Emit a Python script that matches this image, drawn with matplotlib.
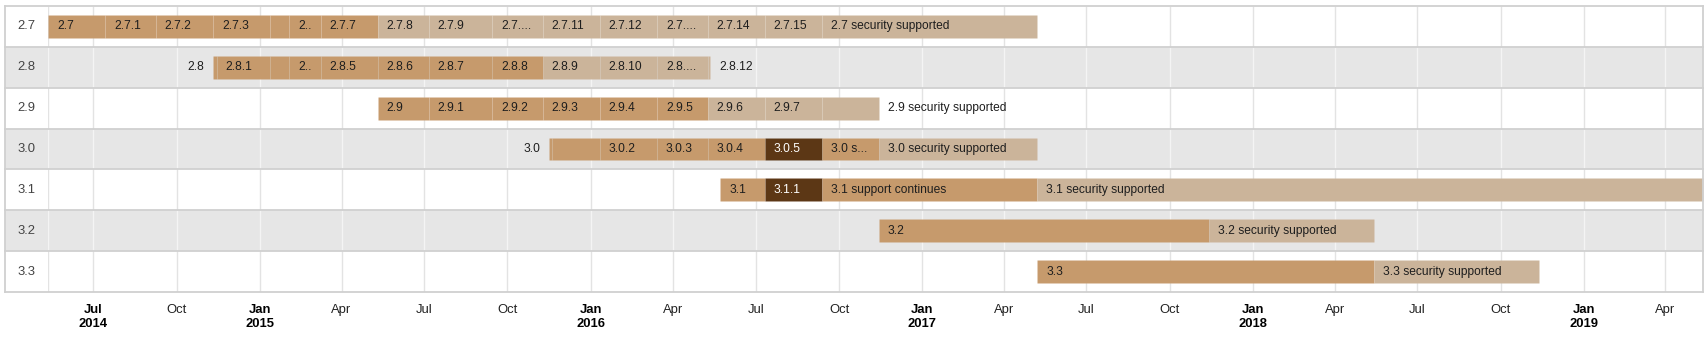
import numpy as np
import matplotlib.pyplot as plt
import matplotlib.dates as mdates
from matplotlib.patches import Rectangle
from matplotlib.lines import Line2D
from matplotlib.transforms import blended_transform_factory

plt.rcParams['font.family'] = ['Liberation Sans', 'DejaVu Sans']

# rows of the timeline
rows = ["2.7", "2.8", "2.9", "3.0", "3.1", "3.2", "3.3"]

# (label, start, kind) - each segment lasts until the next one starts
rel_27 = [("2.7", "2014-05-12", "general"), ("2.7.1", "2014-07-14", "general"),
          ("2.7.2", "2014-09-08", "general"), ("2.7.3", "2014-11-10", "general"),
          ("2.7.4", "2015-01-12", "general"), ("2.7.5", "2015-02-02", "general"),
          ("2.7.7", "2015-03-09", "general"), ("2.7.8", "2015-05-11", "security"),
          ("2.7.9", "2015-07-06", "security"), ("2.7.10", "2015-09-14", "security"),
          ("2.7.11", "2015-11-09", "security"), ("2.7.12", "2016-01-11", "security"),
          ("2.7.13", "2016-03-14", "security"), ("2.7.14", "2016-05-09", "security"),
          ("2.7.15", "2016-07-11", "security"),
          ("2.7 security supported", "2016-09-12", "security")]
rel_28 = [("2.8", "2014-11-10", "general"), ("2.8.1", "2014-11-14", "general"),
          ("2.8.2", "2015-01-12", "general"), ("2.8.3", "2015-02-02", "general"),
          ("2.8.5", "2015-03-09", "general"), ("2.8.6", "2015-05-11", "general"),
          ("2.8.7", "2015-07-06", "general"), ("2.8.8", "2015-09-14", "general"),
          ("2.8.9", "2015-11-09", "security"), ("2.8.10", "2016-01-11", "security"),
          ("2.8.11", "2016-03-14", "security"), ("2.8.12", "2016-05-09", "security")]
rel_29 = [("2.9", "2015-05-11", "general"), ("2.9.1", "2015-07-06", "general"),
          ("2.9.2", "2015-09-14", "general"), ("2.9.3", "2015-11-09", "general"),
          ("2.9.4", "2016-01-11", "general"), ("2.9.5", "2016-03-14", "general"),
          ("2.9.6", "2016-05-09", "security"), ("2.9.7", "2016-07-11", "security"),
          ("2.9 security supported", "2016-09-12", "security")]
rel_30 = [("3.0", "2015-11-16", "general"), ("", "2015-11-19", "general"),
          ("3.0.2", "2016-01-11", "general"), ("3.0.3", "2016-03-14", "general"),
          ("3.0.4", "2016-05-09", "general"), ("3.0.5", "2016-07-11", "current"),
          ("3.0 support continues", "2016-09-12", "general"),
          ("3.0 security supported", "2016-11-14", "security")]
rel_31 = [("3.1", "2016-05-23", "general"), ("3.1.1", "2016-07-11", "current"),
          ("3.1 support continues", "2016-09-12", "general"),
          ("3.1 security supported", "2017-05-08", "security")]
rel_32 = [("3.2", "2016-11-14", "general"),
          ("3.2 security supported", "2017-11-13", "security")]
rel_33 = [("3.3", "2017-05-08", "general"),
          ("3.3 security supported", "2018-05-14", "security")]
row_ends = ["2017-05-08", "2016-05-12", "2016-11-14", "2017-05-08",
            "2019-05-13", "2018-05-14", "2018-11-12"]

tick_dates = ["2014-07-01", "2014-10-01", "2015-01-01", "2015-04-01", "2015-07-01",
              "2015-10-01", "2016-01-01", "2016-04-01", "2016-07-01", "2016-10-01",
              "2017-01-01", "2017-04-01", "2017-07-01", "2017-10-01", "2018-01-01",
              "2018-04-01", "2018-07-01", "2018-10-01", "2019-01-01", "2019-04-01"]
tick_labels = ["Jul\n2014", "Oct", "Jan\n2015", "Apr", "Jul", "Oct", "Jan\n2016", "Apr",
               "Jul", "Oct", "Jan\n2017", "Apr", "Jul", "Oct", "Jan\n2018", "Apr",
               "Jul", "Oct", "Jan\n2019", "Apr"]

all_rows = [rel_27, rel_28, rel_29, rel_30, rel_31, rel_32, rel_33]

fill = {"general": "#c69a6c", "security": "#cbb49a", "current": "#5c3715"}
ink = {"general": "#1e1e1e", "security": "#1e1e1e", "current": "#ffffff"}

W, H, DPI = 1708, 342, 100
PX = 72 / DPI  # points per pixel
fig = plt.figure(figsize=(W / DPI, H / DPI), dpi=DPI)
left, right, top, bottom = 48, 1703.5, 6, 292
ax = fig.add_axes([left / W, 1 - bottom / H, (right - left) / W, (bottom - top) / H])

d = lambda s: mdates.date2num(np.datetime64(s))
xmin = min(d(r[0][1]) for r in all_rows)
xmax = max(d(e) for e in row_ends)
ax.set_xlim(xmin, xmax)
ax.set_ylim(len(rows) - 0.5, -0.5)
for s in ax.spines.values():
    s.set_visible(False)
ax.set_yticks([])

ticks = [d(t) for t in tick_dates]
ax.set_xticks(ticks, tick_labels)
ax.tick_params(axis='x', length=0, pad=8.5, labelsize=13 * PX, labelcolor='#222222')
for lab in ax.get_xticklabels():
    if "\n" in lab.get_text():
        lab.set_fontweight('bold')
        lab.set_color('#000000')

# row bands, grid, separators
fig_y = blended_transform_factory(fig.transFigure, ax.transData)
x_a, x_b = 5 / W, right / W
for i, name in enumerate(rows):
    band = "#e6e6e6" if i % 2 else "#ffffff"
    ax.add_patch(Rectangle((x_a, i - 0.5), x_b - x_a, 1, transform=fig_y,
                           facecolor=band, edgecolor='none', zorder=0, clip_on=False))
    grid = "#f4f4f4" if i % 2 else "#e3e3e3"
    ax.vlines([xmin] + ticks, i - 0.5, i + 0.5, colors=grid, lw=1.0, zorder=1)
    fig.text(17 / W, 0, name, transform=fig_y, fontsize=13 * PX, color='#444444',
             va='center', ha='left').set_y(i)
for yb in np.arange(-0.5, len(rows), 1.0):
    ax.add_line(Line2D([x_a, x_b], [yb, yb], transform=fig_y, color='#d0d0d0',
                       lw=1.3, zorder=4, clip_on=False))
fig_ax = blended_transform_factory(fig.transFigure, ax.transAxes)
for xb in (x_a, x_b):
    ax.add_line(Line2D([xb, xb], [0, 1], transform=fig_ax, color='#d0d0d0',
                       lw=1.3, zorder=4, clip_on=False))

renderer = fig.canvas.get_renderer()
FS = 12 * PX
PAD = 9


def width_px(s):
    t = fig.text(0, 0, s, fontsize=FS)
    w = t.get_window_extent(renderer).width
    t.remove()
    return w


def to_px(x):
    return ax.transData.transform((x, 0))[0]


for i, (segs, end) in enumerate(zip(all_rows, row_ends)):
    starts = [d(s[1]) for s in segs]
    ends = starts[1:] + [d(end)]
    for j, ((lab, _, kind), a, b) in enumerate(zip(segs, starts, ends)):
        ax.barh(i, b - a, left=a, height=0.56, color=fill[kind],
                edgecolor=(1, 1, 1, 0.06), lw=0.5, zorder=2)
        if not lab:
            continue
        avail = to_px(b) - to_px(a) - 2 * PAD
        tw = width_px(lab)
        if tw <= avail:
            ax.annotate(lab, (a, i), xytext=(PAD * PX, 0), textcoords='offset points',
                        fontsize=FS, color=ink[kind], va='center', ha='left', zorder=3)
        elif j == 0:
            ax.annotate(lab, (a, i), xytext=(-PAD * PX, 0), textcoords='offset points',
                        fontsize=FS, color='#1e1e1e', va='center', ha='right', zorder=3)
        elif j == len(segs) - 1:
            ax.annotate(lab, (b, i), xytext=(PAD * PX, 0), textcoords='offset points',
                        fontsize=FS, color='#1e1e1e', va='center', ha='left', zorder=3)
        else:
            short = None
            for k in range(len(lab) - 1, 0, -1):
                if width_px(lab[:k] + "...") <= avail:
                    short = lab[:k] + "..."
                    break
            if short is None and avail >= 8:
                short = lab[0] + "..."
            if short is None:
                continue
            t = ax.annotate(short, (a, i), xytext=(PAD * PX, 0), textcoords='offset points',
                            fontsize=FS, color=ink[kind], va='center', ha='left', zorder=3)
            span = (avail + PAD) / (to_px(b) - to_px(a)) * (b - a)
            clip = Rectangle((a, i - 0.5), span, 1, transform=ax.transData)
            t.set_clip_path(clip)

fig.savefig("out.png", dpi=DPI)
